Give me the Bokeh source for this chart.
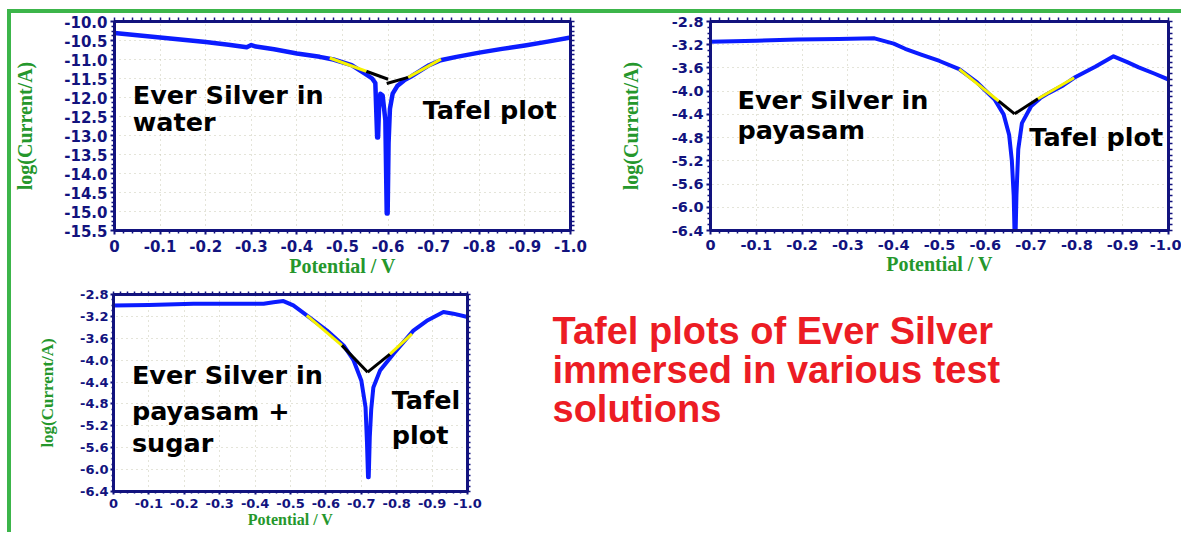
from bokeh.plotting import figure
from bokeh.models import Range1d, LinearAxis, FixedTicker, CustomJSTickFormatter, Label, Div
from bokeh.layouts import row, column
from bokeh.embed import file_html
from bokeh.resources import INLINE

# ---------------- data ----------------
# Panel 1 : Ever Silver in water
water_v = [0.0, -0.05, -0.10, -0.15, -0.20, -0.25, -0.29, -0.30, -0.31, -0.35, -0.40, -0.45,
           -0.48, -0.52, -0.55, -0.565, -0.572, -0.576, -0.578, -0.580, -0.583, -0.588,
           -0.594, -0.597, -0.599, -0.601, -0.604, -0.61, -0.62, -0.635, -0.65, -0.67,
           -0.69, -0.715, -0.75, -0.80, -0.85, -0.90, -0.95, -1.00]
water_i = [-10.30, -10.36, -10.42, -10.48, -10.54, -10.61, -10.68, -10.62, -10.66, -10.73, -10.84, -10.93,
           -11.00, -11.15, -11.38, -11.50, -11.62, -13.05, -13.05, -12.3, -11.9, -11.95,
           -12.6, -15.05, -15.05, -13.2, -12.3, -11.9, -11.7, -11.55, -11.45, -11.30,
           -11.15, -11.02, -10.93, -10.82, -10.72, -10.63, -10.53, -10.42]
water_yellow_v = [[-0.472, -0.552], [-0.644, -0.716]]
water_yellow_i = [[-10.96, -11.31], [-11.47, -10.99]]
water_black_v = [[-0.552, -0.600], [-0.597, -0.644]]
water_black_i = [[-11.31, -11.52], [-11.63, -11.47]]

# Panel 2 : Ever Silver in payasam
pay_v = [0.0, -0.10, -0.19, -0.28, -0.358, -0.40, -0.425, -0.46, -0.50, -0.543, -0.582, -0.62,
         -0.64, -0.652, -0.658, -0.662, -0.664, -0.666, -0.668, -0.672, -0.68, -0.70, -0.72,
         -0.739, -0.77, -0.794, -0.84, -0.88, -0.91, -0.935, -0.97, -1.00]
pay_i = [-3.15, -3.13, -3.11, -3.10, -3.09, -3.18, -3.27, -3.37, -3.48, -3.62, -3.85, -4.14,
         -4.40, -4.75, -5.20, -5.80, -6.50, -6.50, -5.80, -5.00, -4.55, -4.26, -4.12,
         -4.03, -3.90, -3.77, -3.58, -3.40, -3.50, -3.59, -3.70, -3.80]
pay_yellow_v = [[-0.543, -0.629], [-0.715, -0.794]]
pay_yellow_i = [[-3.62, -4.17], [-4.13, -3.77]]
pay_black_v = [[-0.629, -0.664], [-0.664, -0.715]]
pay_black_i = [[-4.17, -4.39], [-4.39, -4.13]]

# Panel 3 : Ever Silver in payasam + sugar
sug_v = [0.0, -0.10, -0.226, -0.35, -0.424, -0.452, -0.48, -0.508, -0.546, -0.603, -0.65, -0.678,
         -0.70, -0.712, -0.716, -0.719, -0.721, -0.724, -0.728, -0.734, -0.753, -0.79, -0.847,
         -0.885, -0.932, -0.96, -1.00]
sug_i = [-3.00, -2.99, -2.97, -2.97, -2.97, -2.94, -2.92, -3.00, -3.18, -3.46, -3.73, -4.00,
         -4.37, -4.86, -5.50, -6.14, -6.14, -5.40, -4.90, -4.50, -4.19, -3.89, -3.46,
         -3.28, -3.12, -3.15, -3.21]
sug_yellow_v = [[-0.546, -0.645], [-0.781, -0.843]]
sug_yellow_i = [[-3.18, -3.73], [-3.89, -3.52]]
sug_black_v = [[-0.645, -0.718], [-0.718, -0.781]]
sug_black_i = [[-3.73, -4.22], [-4.22, -3.89]]

# ticks
x_ticks = [0.0, -0.1, -0.2, -0.3, -0.4, -0.5, -0.6, -0.7, -0.8, -0.9, -1.0]
water_y_ticks = [-10.0, -10.5, -11.0, -11.5, -12.0, -12.5, -13.0, -13.5, -14.0, -14.5, -15.0, -15.5]
pay_y_ticks = [-2.8, -3.2, -3.6, -4.0, -4.4, -4.8, -5.2, -5.6, -6.0, -6.4]

x_title = "Potential / V"
y_title = "log(Current/A)"
headline = ["Tafel plots of Ever Silver", "immersed in various test", "solutions"]

# ---------------- styles ----------------
NAVY = "#12137e"
TITLE_GREEN = "#25972c"
FRAME_GREEN = "#3cb54a"
BLUE = "#0b1cff"
YELLOW = "#f6f200"
RED = "#ec1c24"
TICK_FONT = "DejaVu Sans"
NOTE_FONT = "DejaVu Sans"

fmt = CustomJSTickFormatter(code="return Math.abs(tick) < 1e-9 ? '0' : tick.toFixed(1);")


def minor_list(ticks, n):
    out = []
    for a, b in zip(ticks[:-1], ticks[1:]):
        for k in range(1, n):
            out.append(a + (b - a) * k / n)
    return out


def panel(width, height, mb, yrange, yticks, tick_fs, tick_out, lab_standoff, xlab_standoff,
          ytitle_fs, ytitle_standoff, xtitle_fs):
    p = figure(width=width, height=height, x_range=Range1d(0.0, -1.0), y_range=Range1d(*yrange),
               output_backend="svg", toolbar_location=None, title=None,
               min_border_left=mb[0], min_border_right=mb[1], min_border_top=mb[2],
               min_border_bottom=mb[3])
    p.background_fill_color = "white"
    p.border_fill_color = "white"
    p.outline_line_color = NAVY
    p.outline_line_width = 3
    xt = FixedTicker(ticks=x_ticks, minor_ticks=minor_list(x_ticks, 5))
    yt = FixedTicker(ticks=yticks, minor_ticks=minor_list(yticks, 4))
    for ax in p.xaxis + p.yaxis:
        ax.formatter = fmt
        ax.axis_line_color = NAVY
        ax.axis_line_width = 3
        ax.major_tick_line_color = NAVY
        ax.major_tick_line_width = 2
        ax.minor_tick_line_color = NAVY
        ax.minor_tick_line_width = 1.5
        ax.major_tick_in = 0
        ax.major_tick_out = tick_out
        ax.minor_tick_in = 0
        ax.minor_tick_out = tick_out - 1
        ax.major_label_text_font = TICK_FONT
        ax.major_label_text_font_style = "bold"
        ax.major_label_text_font_size = tick_fs
        ax.major_label_text_color = NAVY
        ax.axis_label_text_font = "Liberation Serif"
        ax.axis_label_text_font_style = "bold"
        ax.axis_label_text_color = TITLE_GREEN
    p.xaxis.ticker = xt
    p.yaxis.ticker = yt
    p.xaxis.major_label_standoff = xlab_standoff
    p.yaxis.major_label_standoff = lab_standoff
    p.xaxis.axis_label = x_title
    p.xaxis.axis_label_text_font_size = xtitle_fs
    p.xaxis.axis_label_standoff = 0
    p.yaxis.axis_label = y_title
    p.yaxis.axis_label_text_font_size = ytitle_fs
    p.yaxis.axis_label_standoff = ytitle_standoff
    # tick marks only (no labels) on the right and top edges of the frame
    for loc, majors, minors in (("right", yticks, minor_list(yticks, 4)),
                                ("above", x_ticks, minor_list(x_ticks, 5))):
        tk = FixedTicker(ticks=[], minor_ticks=list(majors) + minors)
        ax = LinearAxis(ticker=tk, major_label_standoff=0, axis_line_color=NAVY,
                        axis_line_width=3, minor_tick_line_color=NAVY,
                        minor_tick_line_width=1.5, minor_tick_in=0, minor_tick_out=tick_out)
        p.add_layout(ax, loc)
    for g in (p.xgrid[0], p.ygrid[0]):
        g.grid_line_color = "#c9c9b2"
        g.grid_line_dash = "1 4"
        g.grid_line_width = 1
    return p


def note(p, text, x, y, size="25.5px"):
    p.add_layout(Label(x=x, y=y, text=text, text_font=NOTE_FONT, text_font_style="bold",
                       text_font_size=size, text_color="black", text_baseline="alphabetic"))


def curves(p, v, i, yv, yi, bv, bi, lw=4):
    p.line(v, i, line_color=BLUE, line_width=lw, line_join="round")
    p.multi_line(bv, bi, line_color="black", line_width=3)
    p.multi_line(yv, yi, line_color=YELLOW, line_width=3)


# Panel 1
p1 = panel(598, 268, (103, 39, 8, 51), (-15.5, -10.0), water_y_ticks, "15px", 4, 3, 5,
           "20px", 25, "20px")
curves(p1, water_v, water_i, water_yellow_v, water_yellow_i, water_black_v, water_black_i, lw=4.5)
note(p1, "Ever Silver in", -0.040, -11.93)
note(p1, "water", -0.040, -12.64)
note(p1, "Tafel plot", -0.676, -12.34)

# Panel 2
p2 = panel(572, 268, (101, 13, 8, 51), (-6.4, -2.8), pay_y_ticks, "14.5px", 4, 3, 5,
           "20px", 27, "20px")
curves(p2, pay_v, pay_i, pay_yellow_v, pay_yellow_i, pay_black_v, pay_black_i)
note(p2, "Ever Silver in", -0.059, -4.15)
note(p2, "payasam", -0.059, -4.67)
note(p2, "Tafel plot", -0.696, -4.79)

# Panel 3
p3 = panel(500, 251, (102, 44, 13, 41), (-6.4, -2.8), pay_y_ticks, "13px", 3, 2, 4,
           "17px", 20, "16px")
curves(p3, sug_v, sug_i, sug_yellow_v, sug_yellow_i, sug_black_v, sug_black_i)
note(p3, "Ever Silver in", -0.052, -4.27)
note(p3, "payasam +", -0.052, -4.92)
note(p3, "sugar", -0.052, -5.51)
note(p3, "Tafel", -0.786, -4.73)
note(p3, "plot", -0.786, -5.37)

# Headline panel (frame aligned with panel 3's frame: 197 px tall)
p4 = figure(width=671, height=251, x_range=Range1d(0, 671), y_range=Range1d(0, 197),
            output_backend="svg", toolbar_location=None, title=None,
            min_border_left=0, min_border_right=0, min_border_top=13, min_border_bottom=41,
            x_axis_location=None, y_axis_location=None)
p4.outline_line_color = None
p4.xgrid.visible = False
p4.ygrid.visible = False
for k, line in enumerate(headline):
    p4.add_layout(Label(x=41, y=160.5 - 39 * k, text=line, text_font="Liberation Sans",
                        text_font_style="bold", text_font_size="38px", text_color=RED,
                        text_baseline="alphabetic"))

top_gap = Div(width=1181, height=9, margin=0)
left_gap = Div(width=7, height=523, margin=0)
top_bar = Div(width=1174, height=4, margin=0, styles={"background-color": FRAME_GREEN})
left_bar = Div(width=4, height=519, margin=0, styles={"background-color": FRAME_GREEN})
content = column(row(p1, p2), row(p3, p4))
layout = column(top_gap, row(left_gap, column(top_bar, row(left_bar, content))))

open("out.html", "w").write(file_html(layout, INLINE))
